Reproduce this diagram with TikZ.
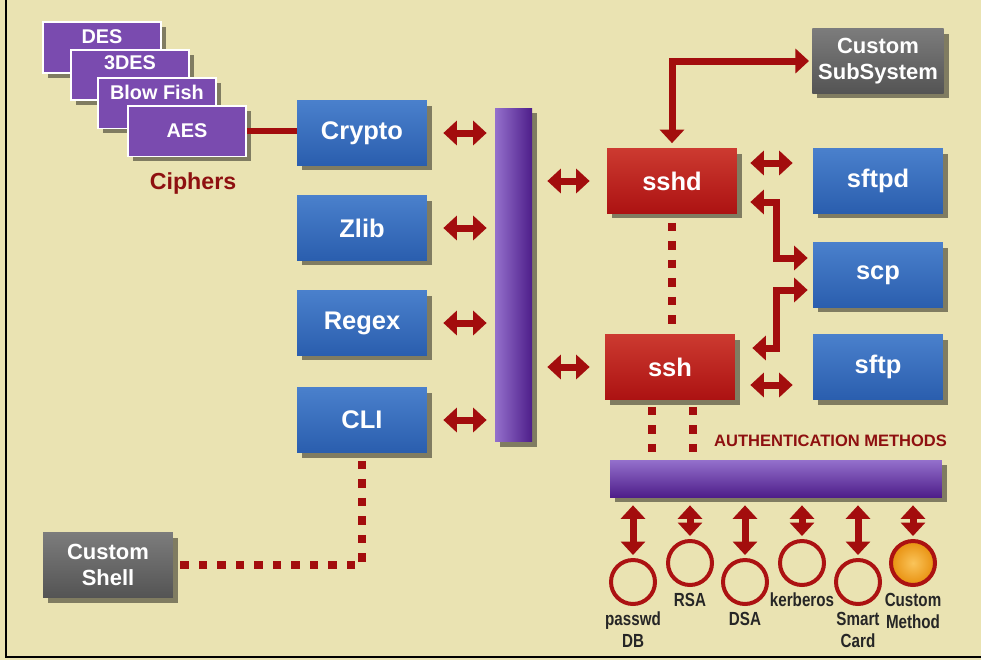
\documentclass[tikz,border=0pt]{standalone}
\usepackage{fontspec}
\setmainfont{Liberation Sans}
\newfontfamily\narrowfont[FakeStretch=0.8]{Liberation Sans}
\usetikzlibrary{arrows.meta,shadows,positioning}

\definecolor{bgbeige}{HTML}{EAE3B2}
\definecolor{modblue}{HTML}{2A5EAE}
\definecolor{modbluelt}{HTML}{4A80CC}
\definecolor{sshred}{HTML}{AC1212}
\definecolor{sshredlt}{HTML}{CC3A30}
\definecolor{linkred}{HTML}{A30D0D}
\definecolor{custgray}{HTML}{545454}
\definecolor{custgraylt}{HTML}{7C7C7C}
\definecolor{ciphpurple}{HTML}{7A4BAF}
\definecolor{buspurple}{HTML}{4E1E8A}
\definecolor{buspurplelt}{HTML}{9470CC}
\definecolor{labelred}{HTML}{8E1010}
\definecolor{orangeball}{HTML}{E8900E}
\definecolor{orangelt}{HTML}{FAC45A}

\begin{document}
\begin{tikzpicture}[x=0.02cm,y=-0.02cm,
  >={Triangle[width=0.48cm,length=0.27cm]},
  shade/.style={drop shadow={shadow xshift=0.1cm,shadow yshift=-0.1cm,opacity=0.45,fill=black}},
  box/.style={rectangle,shade,minimum width=2.6cm,minimum height=1.3cm,text=white,
    font=\bfseries\fontsize{14.5}{16}\selectfont},
  mod/.style={box,top color=modbluelt,bottom color=modblue},
  sshbox/.style={box,top color=sshredlt,bottom color=sshred},
  custbox/.style={box,top color=custgraylt,bottom color=custgray,align=center,
    font=\bfseries\fontsize{12.5}{15}\selectfont},
  cipher/.style={rectangle,shade,fill=ciphpurple,draw=white,line width=0.04cm,
    minimum width=2.38cm,minimum height=1.02cm},
  cipherlbl/.style={text=white,font=\bfseries\fontsize{11.3}{13}\selectfont},
  dbl/.style={draw=linkred,line width=0.14cm,<->},
  dots/.style={draw=linkred,line width=0.17cm,dash pattern=on 0.17cm off 0.2cm},
  authc/.style={circle,draw=sshred,line width=0.08cm,minimum size=0.88cm,inner sep=0pt,
    label distance=0.02cm},
  authlbl/.style={font=\narrowfont\bfseries\fontsize{10.8}{12.5}\selectfont,
    text=black!85,align=center}]

\useasboundingbox (0,0) rectangle (981,660);
\fill[bgbeige] (0,0) rectangle (981,660);
\draw[black,line width=0.04cm] (6,0) -- (6,657) -- (981,657);

% ciphers
\node[cipher] (des) at (102,47.5) {};
\node[cipherlbl] (deslbl) at ([yshift=-0.32cm]des.north) {DES};
\node[cipher] (tdes) at (130,75) {};
\node[cipherlbl] (tdeslbl) at ([yshift=-0.28cm]tdes.north) {3DES};
\node[cipher] (bfish) at (157,103) {};
\node[cipherlbl] (bfishlbl) at ([yshift=-0.32cm]bfish.north) {Blow Fish};
\node[cipher,cipherlbl] (aes) at (187,131) {AES};
\node[text=labelred,font=\bfseries\fontsize{13.2}{15}\selectfont] (ciph) at (193,183) {Ciphers};

% left modules
\node[mod] (crypto) at (362,133) {Crypto};
\node[mod] (zlib) at (362,228) {Zlib};
\node[mod] (regex) at (362,323) {Regex};
\node[mod] (cli) at (362,420) {CLI};
\draw[linkred,line width=0.13cm] (aes.east) -- (aes.east -| crypto.west);

% bus
\node[rectangle,shade,left color=buspurplelt,right color=buspurple,
  minimum width=0.74cm,minimum height=6.68cm] (bus) at (513.5,275) {};
\foreach \m in {crypto,zlib,regex,cli}
  \draw[dbl] ([xshift=0.32cm]\m.east) -- ([xshift=-0.16cm]\m -| bus.west);

% ssh side
\node[sshbox] (sshd) at (672,181) {sshd};
\node[sshbox] (ssh) at (670,367) {ssh};
\node[custbox] (sub) at (878,61) {Custom\\SubSystem};
\node[mod] (sftpd) at (878,181) {sftpd};
\node[mod] (scp) at (878,275) {scp};
\node[mod] (sftp) at (878,367) {sftp};
\node[custbox] (shell) at (108,565) {Custom\\Shell};

\draw[dbl] ([xshift=0.3cm]sshd -| bus.east) -- ([xshift=-0.34cm]sshd.west);
\draw[dbl] ([xshift=0.3cm]ssh -| bus.east) -- ([xshift=-0.3cm]ssh.west);
\draw[dbl] ([yshift=0.1cm]sshd.north) |- ([xshift=-0.06cm]sub.west);
\draw[dbl] ([xshift=0.26cm,yshift=0.36cm]sshd.east) -- ([xshift=-0.4cm,yshift=0.36cm]sshd.east -| sftpd.west);
\draw[dbl] ([xshift=0.3cm,yshift=-0.36cm]ssh.east) -- ([xshift=-0.4cm,yshift=-0.36cm]ssh.east -| sftp.west);
\draw[dbl] ([xshift=0.26cm,yshift=-0.42cm]sshd.east) -| ([xshift=-0.72cm,yshift=0.34cm]scp.west)
  -- ([xshift=-0.1cm,yshift=0.34cm]scp.west);
\draw[dbl] ([xshift=0.34cm,yshift=0.38cm]ssh.east) -| ([xshift=-0.72cm,yshift=-0.3cm]scp.west)
  -- ([xshift=-0.1cm,yshift=-0.3cm]scp.west);

\draw[dots,shorten <=0.18cm,shorten >=0.2cm] (sshd.south) -- (sshd.south |- ssh.north);
\draw[dots] ([yshift=-0.16cm]cli.south) |- ([xshift=0.14cm]shell.east);

% authentication
\node[rectangle,shade,top color=buspurplelt,bottom color=buspurple,
  minimum width=6.64cm,minimum height=0.74cm] (bar) at (776,478.5) {};
\node[anchor=west,text=labelred,font=\bfseries\fontsize{9.4}{11}\selectfont] (authttl) at (708,441) {AUTHENTICATION METHODS};
\draw[dots] ([xshift=-0.36cm,yshift=-0.14cm]ssh.south) -- ([xshift=-0.36cm]ssh.south |- bar.north);
\draw[dots] ([xshift=0.46cm,yshift=-0.14cm]ssh.south) -- ([xshift=0.46cm]ssh.south |- bar.north);

\node[authc,label={[authlbl]below:{passwd\\DB}}] (pw) at (633,582) {};
\node[authc,label={[authlbl]below:RSA}] (rsa) at (690,563) {};
\node[authc,label={[authlbl]below:DSA}] (dsa) at (745,582) {};
\node[authc,label={[authlbl]below:kerberos}] (krb) at (802,563) {};
\node[authc,label={[authlbl]below:{Smart\\Card}}] (smart) at (858,582) {};
\node[authc,inner color=orangelt,outer color=orangeball,label={[authlbl]below:{Custom\\Method}}] (cmeth) at (913,563) {};
\foreach \c in {pw,rsa,dsa,krb,smart,cmeth}
  \draw[dbl] ([yshift=-0.16cm]\c.north |- bar.south) -- ([yshift=0.06cm]\c.north);

\end{tikzpicture}
\end{document}
